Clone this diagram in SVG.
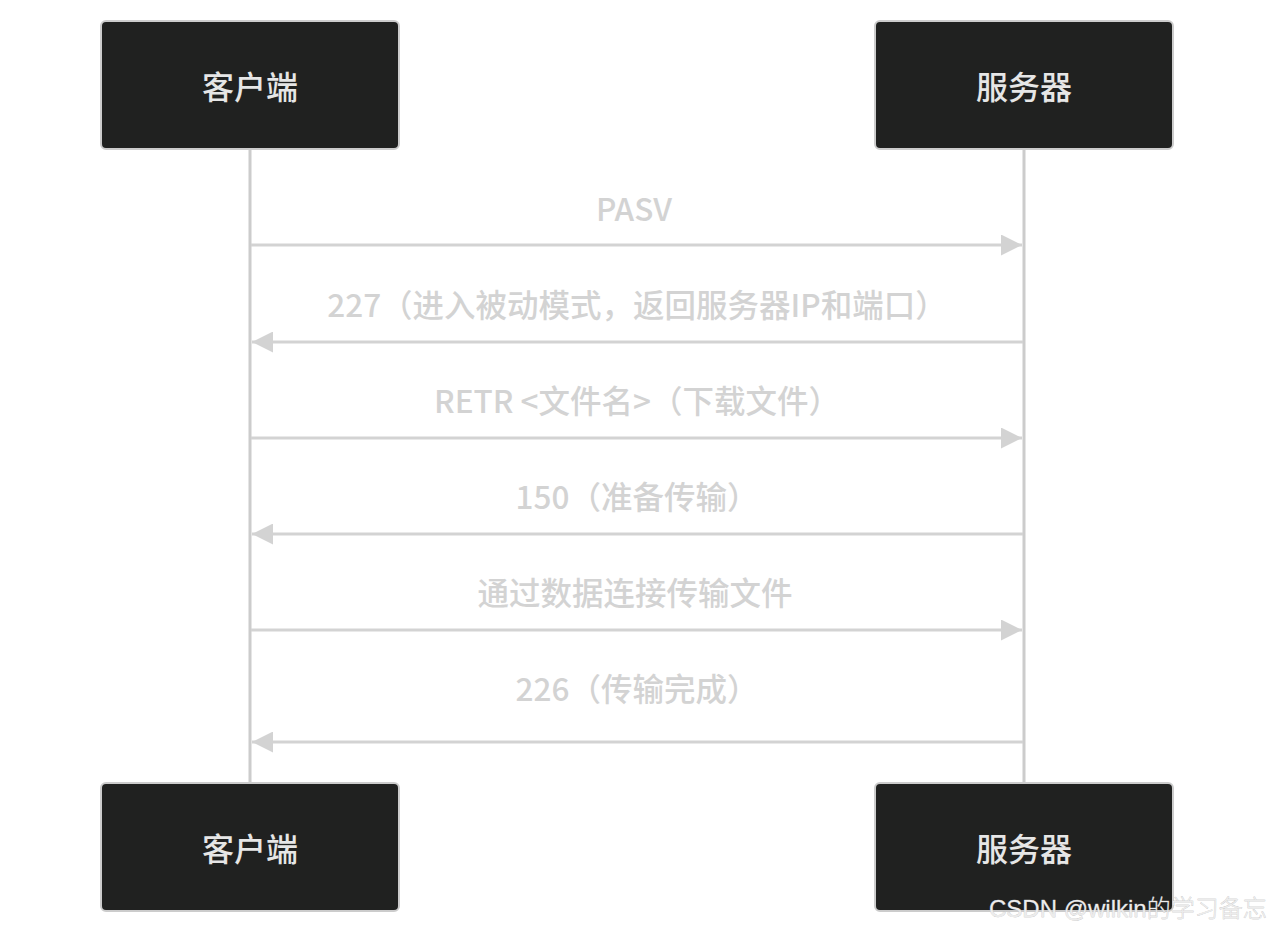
<svg xmlns="http://www.w3.org/2000/svg" width="1274" height="934" viewBox="0 0 1274 934">
  <style>
    .actor rect { fill: #202120; stroke: #cccccc; stroke-width: 2; }
    .actor text { fill: #e6e6e6; font-family: "Noto Sans CJK SC", "Noto Sans", sans-serif; font-size: 32px; font-weight: 500; text-anchor: middle; dominant-baseline: central; }
    .lifeline { stroke: #cccccc; stroke-width: 3; }
    .msg { stroke: #d3d3d3; stroke-width: 3; fill: none; }
    .label { fill: #d3d3d3; font-family: "Noto Sans CJK SC", "Noto Sans", sans-serif; font-size: 31.5px; font-weight: 500; text-anchor: middle; }
    .wm { fill: #ececec; stroke: #b0b0b0; stroke-width: 0.4; paint-order: stroke; font-family: "Liberation Sans", "Noto Sans CJK SC", sans-serif; font-size: 24px; font-weight: 300; }
  </style>
  <defs>
    <marker id="arrow" markerUnits="userSpaceOnUse" markerWidth="21" markerHeight="21" refX="21" refY="10.5" orient="auto">
      <path d="M0,0 L21,10.5 L0,21 Z" fill="#d3d3d3"/>
    </marker>
  </defs>

  <g id="lifelines">
    <line class="lifeline" x1="250" y1="150" x2="250" y2="782"/>
    <line class="lifeline" x1="1024" y1="150" x2="1024" y2="782"/>
  </g>

  <g id="client-top" class="actor">
    <rect x="101" y="21" width="298" height="128" rx="5"/>
    <text x="250" y="85">客户端</text>
  </g>
  <g id="server-top" class="actor">
    <rect x="875" y="21" width="298" height="128" rx="5"/>
    <text x="1024" y="85">服务器</text>
  </g>
  <g id="client-bottom" class="actor">
    <rect x="101" y="783" width="298" height="128" rx="5"/>
    <text x="250" y="847">客户端</text>
  </g>
  <g id="server-bottom" class="actor">
    <rect x="875" y="783" width="298" height="128" rx="5"/>
    <text x="1024" y="847">服务器</text>
  </g>

  <g id="connectors">
    <line class="msg" x1="251" y1="245" x2="1022" y2="245" marker-end="url(#arrow)"/>
    <text class="label" x="634" y="221">PASV</text>
    <line class="msg" x1="1023" y1="342" x2="252" y2="342" marker-end="url(#arrow)"/>
    <text class="label" x="637" y="317">227（进入被动模式，返回服务器IP和端口）</text>
    <line class="msg" x1="251" y1="438" x2="1022" y2="438" marker-end="url(#arrow)"/>
    <text class="label" x="637" y="413">RETR &lt;文件名&gt;（下载文件）</text>
    <line class="msg" x1="1023" y1="534" x2="252" y2="534" marker-end="url(#arrow)"/>
    <text class="label" x="637" y="509">150（准备传输）</text>
    <line class="msg" x1="251" y1="630" x2="1022" y2="630" marker-end="url(#arrow)"/>
    <text class="label" x="635" y="605">通过数据连接传输文件</text>
    <line class="msg" x1="1023" y1="742" x2="252" y2="742" marker-end="url(#arrow)"/>
    <text class="label" x="637" y="701">226（传输完成）</text>
  </g>

  <text class="wm" x="989" y="917">CSDN @wilkin的学习备忘</text>
</svg>
